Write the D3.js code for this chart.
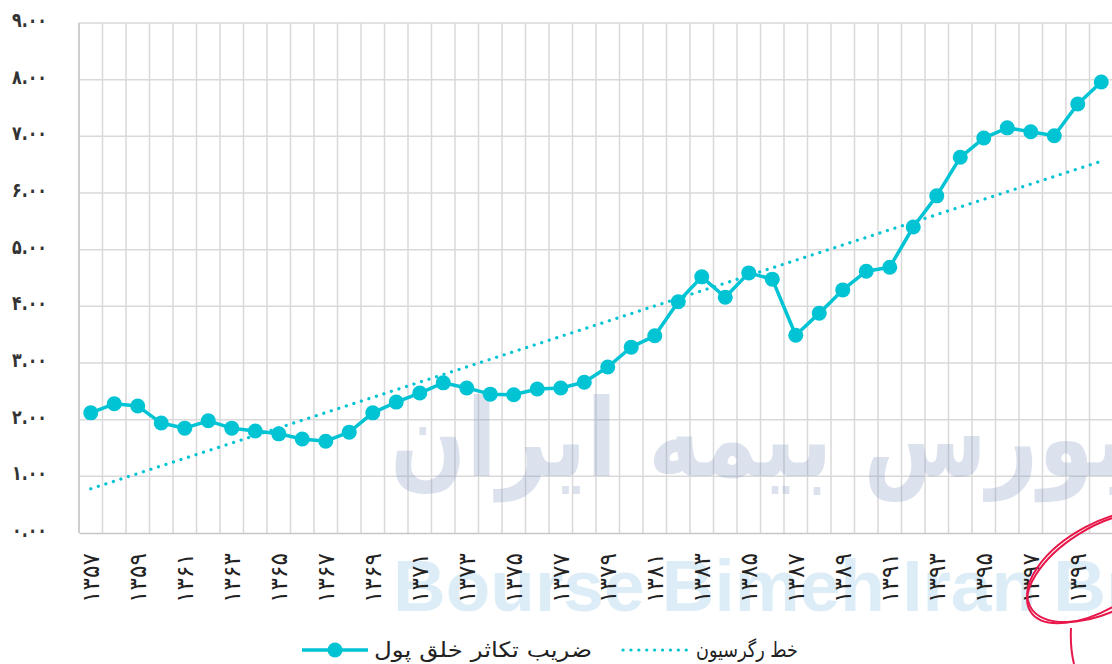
<!DOCTYPE html>
<html>
<head>
<meta charset="utf-8">
<script src="https://cdn.jsdelivr.net/npm/d3@7"></script>
<style>
  body { margin: 0; background: #fff; }
  svg { display: block; }
</style>
</head>
<body>
<script>
// سال ها و ضریب تکاثر خلق پول
var years = ["۱۳۵۷","۱۳۵۸","۱۳۵۹","۱۳۶۰","۱۳۶۱","۱۳۶۲","۱۳۶۳","۱۳۶۴","۱۳۶۵","۱۳۶۶","۱۳۶۷",
             "۱۳۶۸","۱۳۶۹","۱۳۷۰","۱۳۷۱","۱۳۷۲","۱۳۷۳","۱۳۷۴","۱۳۷۵","۱۳۷۶","۱۳۷۷","۱۳۷۸",
             "۱۳۷۹","۱۳۸۰","۱۳۸۱","۱۳۸۲","۱۳۸۳","۱۳۸۴","۱۳۸۵","۱۳۸۶","۱۳۸۷","۱۳۸۸","۱۳۸۹",
             "۱۳۹۰","۱۳۹۱","۱۳۹۲","۱۳۹۳","۱۳۹۴","۱۳۹۵","۱۳۹۶","۱۳۹۷","۱۳۹۸","۱۳۹۹","۱۴۰۰"];

var multiplier = [2.12, 2.28, 2.24, 1.94, 1.85, 1.98, 1.85, 1.80, 1.75, 1.66, 1.62,
                  1.78, 2.12, 2.31, 2.47, 2.65, 2.56, 2.45, 2.44, 2.54, 2.56, 2.66,
                  2.93, 3.28, 3.48, 4.08, 4.52, 4.16, 4.59, 4.48, 3.49, 3.88, 4.29,
                  4.62, 4.69, 5.40, 5.95, 6.63, 6.97, 7.15, 7.08, 7.01, 7.57, 7.96];

// trend line ends (first and last year)
var regressionYears = ["۱۳۵۷", "۱۴۰۰"];
var regressionValues = [0.78, 6.56];

var yTicks = [0, 1, 2, 3, 4, 5, 6, 7, 8, 9];
var yTickLabels = ["۰.۰۰","۱.۰۰","۲.۰۰","۳.۰۰","۴.۰۰","۵.۰۰","۶.۰۰","۷.۰۰","۸.۰۰","۹.۰۰"];

var seriesNames = ["ضریب تکاثر خلق پول", "خط رگرسیون"];

var W = 1112, H = 664;
var margin = {top: 23, left: 79, bottom: 131};
var plotRight = 1113;
var color = "#00c3d3";
var fontFa = "'DejaVu Sans', sans-serif";

var svg = d3.select("body").append("svg")
    .attr("width", W)
    .attr("height", H);

var x = d3.scaleBand().domain(years).range([margin.left, plotRight]).padding(0);
var y = d3.scaleLinear().domain([0, 9]).range([H - margin.bottom, margin.top]);
var cx = function(d) { return x(d) + x.bandwidth() / 2; };

// grid
var grid = svg.append("g");
grid.selectAll(".vgrid")
    .data(years.concat(["end"]))
    .enter().append("line")
    .attr("x1", function(d, i) { return margin.left + i * x.bandwidth(); })
    .attr("x2", function(d, i) { return margin.left + i * x.bandwidth(); })
    .attr("y1", y(9))
    .attr("y2", y(0))
    .style("stroke", "#d9d9d9")
    .style("stroke-width", 1.5);

grid.selectAll(".hgrid")
    .data(yTicks.slice(1))
    .enter().append("line")
    .attr("x1", margin.left)
    .attr("x2", plotRight)
    .attr("y1", function(d) { return y(d); })
    .attr("y2", function(d) { return y(d); })
    .style("stroke", "#d9d9d9")
    .style("stroke-width", 1.5);

grid.append("line")
    .attr("x1", margin.left).attr("x2", margin.left)
    .attr("y1", y(9)).attr("y2", y(0))
    .style("stroke", "#c8c8c8").style("stroke-width", 1.5);

// watermark (cut by the right edge, as in the source image)
var wm = svg.append("g");
wm.append("text")
    .attr("x", 390)
    .attr("y", 476)
    .attr("textLength", 738)
    .attr("lengthAdjust", "spacingAndGlyphs")
    .style("font-family", fontFa)
    .style("font-weight", "bold")
    .style("font-size", "108px")
    .style("fill", "#8098c0")
    .style("opacity", 0.28)
    .text("بورس بیمه ایران");

wm.append("text")
    .attr("x", 393)
    .attr("y", 611)
    .style("font-family", "'Liberation Sans', Arial, sans-serif")
    .style("font-weight", "bold")
    .style("font-size", "73px")
    .style("word-spacing", "-3px")
    .style("fill", "#dcedf7")
    .text("Bourse Bimeh Iran Br");

// bottom axis
var xAxis = svg.append("g")
    .attr("transform", "translate(0," + y(0) + ")")
    .call(d3.axisBottom(x)
        .tickValues(years.filter(function(d, i) { return i % 2 == 0; }))
        .tickSize(0)
        .tickPadding(0));
xAxis.select(".domain")
    .style("stroke", "#c8c8c8")
    .style("stroke-width", 1.5);
xAxis.selectAll("text")
    .attr("transform", "rotate(-90)")
    .attr("x", -20)
    .attr("y", 0)
    .attr("dy", "0.35em")
    .attr("text-anchor", "end")
    .attr("textLength", 50)
    .attr("lengthAdjust", "spacingAndGlyphs")
    .style("font-family", fontFa)
    .style("font-size", "24px")
    .style("fill", "#222");

// y labels
svg.selectAll(".ylabel")
    .data(yTicks)
    .enter().append("text")
    .attr("x", 47)
    .attr("y", function(d) { return y(d); })
    .attr("dy", "0.2em")
    .attr("text-anchor", "end")
    .attr("textLength", 35)
    .attr("lengthAdjust", "spacingAndGlyphs")
    .style("font-family", fontFa)
    .style("font-weight", "bold")
    .style("font-size", "20px")
    .style("fill", "#333")
    .text(function(d, i) { return yTickLabels[i]; });

// regression line
svg.append("line")
    .attr("x1", cx(regressionYears[0]))
    .attr("x2", cx(regressionYears[1]))
    .attr("y1", y(regressionValues[0]))
    .attr("y2", y(regressionValues[1]))
    .style("stroke", color)
    .style("stroke-width", 3.2)
    .style("stroke-linecap", "round")
    .style("stroke-dasharray", "0.1 7.8");

// series line
var line = d3.line()
    .x(function(d, i) { return cx(years[i]); })
    .y(function(d) { return y(d); });

svg.append("path")
    .datum(multiplier)
    .attr("d", line)
    .style("fill", "none")
    .style("stroke", color)
    .style("stroke-width", 3.5)
    .style("stroke-linejoin", "round");

svg.selectAll(".dot")
    .data(multiplier)
    .enter().append("circle")
    .attr("cx", function(d, i) { return cx(years[i]); })
    .attr("cy", function(d) { return y(d); })
    .attr("r", 7.5)
    .style("fill", color);

// legend
var legendY = 650;
var leg1 = svg.append("g");
leg1.append("line")
    .attr("x1", 302).attr("x2", 368)
    .attr("y1", legendY).attr("y2", legendY)
    .style("stroke", color).style("stroke-width", 3.5);
leg1.append("circle")
    .attr("cx", 335).attr("cy", legendY).attr("r", 7.5)
    .style("fill", color);
leg1.append("text")
    .attr("x", 592).attr("y", legendY)
    .attr("dy", "0.32em")
    .attr("text-anchor", "end")
    .attr("textLength", 218)
    .attr("lengthAdjust", "spacingAndGlyphs")
    .style("font-family", fontFa)
    .style("font-size", "21px")
    .style("fill", "#222")
    .text(seriesNames[0]);

var leg2 = svg.append("g");
leg2.append("line")
    .attr("x1", 623).attr("x2", 690)
    .attr("y1", legendY).attr("y2", legendY)
    .style("stroke", color)
    .style("stroke-width", 3.2)
    .style("stroke-linecap", "round")
    .style("stroke-dasharray", "0.1 7.8");
leg2.append("text")
    .attr("x", 798).attr("y", legendY)
    .attr("dy", "0.32em")
    .attr("text-anchor", "end")
    .attr("textLength", 102)
    .attr("lengthAdjust", "spacingAndGlyphs")
    .style("font-family", fontFa)
    .style("font-size", "21px")
    .style("fill", "#222")
    .text(seriesNames[1]);

// red hand-drawn mark over the last labels
var mark = svg.append("g")
    .style("fill", "none")
    .style("stroke", "#e8174a")
    .style("stroke-width", 2);
mark.append("ellipse")
    .attr("cx", 1100).attr("cy", 568).attr("rx", 82).attr("ry", 40)
    .attr("transform", "rotate(-32,1100,568)");
mark.append("ellipse")
    .attr("cx", 1106).attr("cy", 566).attr("rx", 86).attr("ry", 44)
    .attr("transform", "rotate(-28,1106,566)");
mark.append("path")
    .attr("d", "M1071,628 Q1070,648 1074,664");
</script>
</body>
</html>
